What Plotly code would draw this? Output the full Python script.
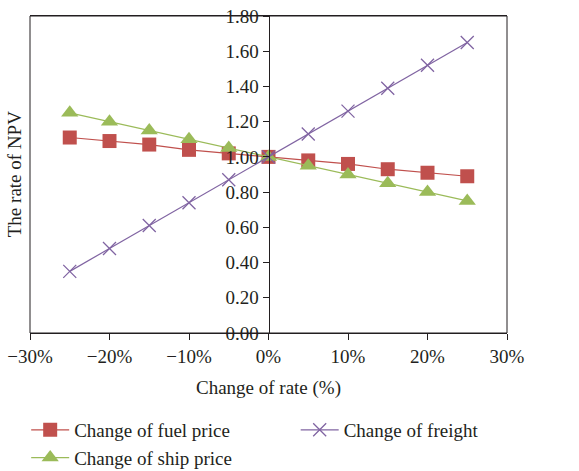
import plotly.graph_objects as go

# Sensitivity of NPV to changes in key parameters
change_pct = [-25, -20, -15, -10, -5, 0, 5, 10, 15, 20, 25]
fuel_price = [1.11, 1.09, 1.07, 1.04, 1.02, 1.00, 0.98, 0.96, 0.93, 0.91, 0.89]
ship_price = [1.25, 1.20, 1.15, 1.10, 1.05, 1.00, 0.95, 0.90, 0.85, 0.80, 0.75]
freight = [0.35, 0.48, 0.61, 0.74, 0.87, 1.00, 1.13, 1.26, 1.39, 1.52, 1.65]

x_tickvals = [-30, -20, -10, 0, 10, 20, 30]
x_ticktext = ["\u221230%", "\u221220%", "\u221210%", "0%", "10%", "20%", "30%"]
y_tickvals = [0.0, 0.2, 0.4, 0.6, 0.8, 1.0, 1.2, 1.4, 1.6, 1.8]
y_ticktext = ["%.2f" % v for v in y_tickvals]

FONT = "Liberation Serif"
FS = 19
TXT = "#231F20"
RED = "#C0504D"
GREEN = "#9BBB59"
PURPLE = "#8064A2"

fig = go.Figure()
fig.add_trace(go.Scatter(
    x=change_pct, y=fuel_price, name="Change of fuel price", mode="lines+markers",
    line=dict(color=RED, width=1.2),
    marker=dict(symbol="square", size=14, color=RED), legend="legend"))
fig.add_trace(go.Scatter(
    x=change_pct, y=ship_price, name="Change of ship price", mode="lines+markers",
    line=dict(color=GREEN, width=1.2),
    marker=dict(symbol="triangle-up", size=15, color=GREEN), legend="legend"))
fig.add_trace(go.Scatter(
    x=change_pct, y=freight, name="Change of freight", mode="lines+markers",
    line=dict(color=PURPLE, width=1.2),
    marker=dict(symbol="x-thin", size=13, color=PURPLE,
                line=dict(color=PURPLE, width=1.3)), legend="legend2"))

legend_style = dict(orientation="v", xanchor="left", yanchor="top",
                    font=dict(family=FONT, size=FS, color=TXT),
                    tracegroupgap=0, itemwidth=38, bgcolor="rgba(0,0,0,0)")

fig.update_layout(
    width=579, height=471,
    margin=dict(l=30, r=72, t=16, b=138, autoexpand=False),
    paper_bgcolor="white", plot_bgcolor="white",
    font=dict(family=FONT, size=FS, color=TXT),
    showlegend=True,
    legend=dict(x=-0.008, y=-0.246, **legend_style),
    legend2=dict(x=0.557, y=-0.246, **legend_style),
    xaxis=dict(range=[-30, 30], tickvals=x_tickvals, ticktext=x_ticktext,
               showgrid=False, zeroline=False, showline=True, linecolor="#231F20",
               linewidth=1, ticks="outside", ticklen=6, tickcolor="#231F20",
               title=dict(text="Change of rate (%)", standoff=14,
                          font=dict(family=FONT, size=FS, color=TXT)),
               mirror=True),
    yaxis=dict(range=[0, 1.8], tickvals=y_tickvals, ticktext=y_ticktext,
               anchor="free", position=0.5,
               showgrid=False, zeroline=False, showline=True, linecolor="#231F20",
               linewidth=1, ticks="outside", ticklen=6, tickcolor="#231F20"),
)

# Frame around the plotting area
fig.add_shape(type="rect", xref="paper", yref="paper", x0=0, x1=1, y0=0, y1=1,
              line=dict(color="#231F20", width=1), layer="above")

# Vertical axis title at the left edge
fig.add_annotation(text="The rate of NPV", xref="paper", yref="paper",
                   x=-0.032, y=0.5, textangle=-90, showarrow=False,
                   xanchor="center", yanchor="middle",
                   font=dict(family=FONT, size=FS, color=TXT))

fig.write_html("out.html")
